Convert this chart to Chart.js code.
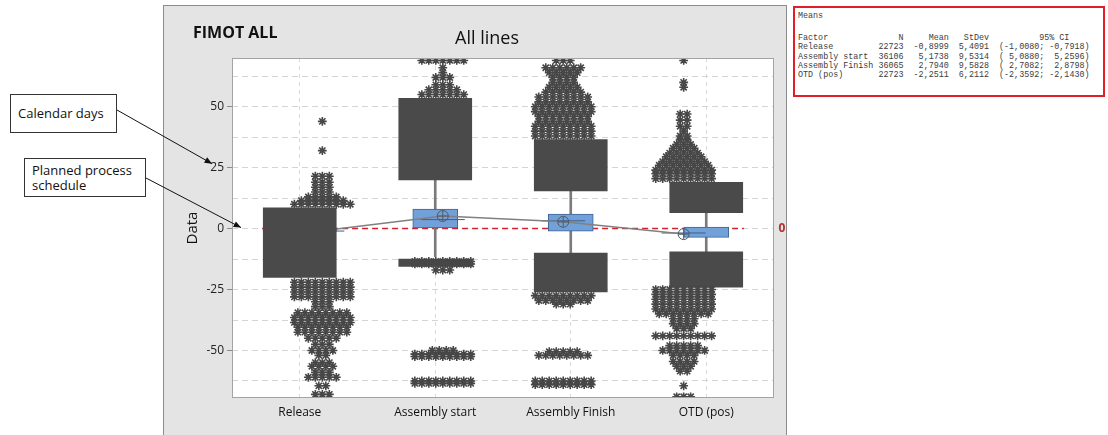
<!DOCTYPE html>
<html>
<head>
<meta charset="utf-8">
<script src="https://cdn.jsdelivr.net/npm/chart.js@4.4.1/dist/chart.umd.min.js"></script>
<style>
  html, body { margin: 0; padding: 0; background: #fff; }
  #wrap { position: relative; width: 1108px; height: 435px; overflow: hidden; font-family: "Open Sans", sans-serif; color: #111; }
  #chart { position: absolute; left: 0; top: 0; }
  .note { position: absolute; box-sizing: border-box; border: 1px solid #333; background: #fff; font-size: 13px; line-height: 15px; padding: 0 0 0 7px; display: flex; align-items: center; }
  #fimot { position: absolute; left: 193px; top: 21px; font-size: 16px; font-weight: 700; line-height: 22px; }
  #title { position: absolute; left: 487px; top: 26px; transform: translateX(-50%); font-size: 18px; line-height: 22px; }
  #means { position: absolute; left: 793px; top: 6px; width: 312px; height: 91px; box-sizing: border-box; border: 2px solid #e01f2b; background: #fff; }
  #means pre { position: absolute; left: 3px; margin: 0; font-family: "Liberation Mono", monospace; font-size: 8.4px; line-height: 9.3px; color: #3c3c3c; }
</style>
</head>
<body>
<div id="wrap">
  <canvas id="chart" width="1108" height="435"></canvas>
  <div id="fimot">FIMOT ALL</div>
  <div id="title">All lines</div>
  <div class="note" style="left:10px;top:94px;width:107px;height:39px;">Calendar days</div>
  <div class="note" style="left:24px;top:158px;width:122px;height:39px;">Planned process<br>schedule</div>
  <div id="means"><pre id="meansHead" style="top:4px;"></pre><pre id="meansBody" style="top:26px;"></pre></div>
</div>
<script>
// ---- data ----
const categories = ["Release", "Assembly start", "Assembly Finish", "OTD (pos)"];
const q1 = [-5, 0.3, -1, -3.6];
const q3 = [3.5, 8, 6, 0.6];
const medians = [-1, 3.7, 3.2, -1.8];
const means = [-0.8999, 5.1738, 2.7940, -2.2511];
const whiskerLow = [-20, -11.5, -10, -9.5];
const whiskerHigh = [8, 20, 15.5, 6.5];
// solid areas where outlier symbols overlap completely
const denseHigh = [[-1, 8.5], [20, 53.5], [15.5, 36.5], [6.5, 19]];
const denseLow = [[-20, 0], [-12.5, -15.5], [-10, -26], [-9.5, -24]];
// outlier rows: [value, symbols side by side]
const releaseRows = [
  [10, 9], [11.5, 7], [13, 5], [15, 3], [17, 3], [19, 3], [21.5, 3], [32, 1], [44, 1],
  [-22, 9], [-24, 9], [-26, 9], [-28, 9], [-30, 3], [-32, 3], [-34.5, 8], [-36.5, 9],
  [-38.5, 9], [-40.5, 8], [-42.5, 8], [-45, 5], [-47.5, 3], [-50, 4], [-52, 2],
  [-55, 3], [-56.5, 4], [-59, 3], [-61, 5], [-64.5, 2], [-68, 3]
];
const startRows = [
  [55, 7], [57, 5], [59, 3], [62, 3], [64, 1], [66, 1], [69, 7],
  [-13.5, 9], [-14.5, 9], [-17, 3],
  [-50, 4], [-51.5, 9], [-52.5, 9], [-62.5, 9], [-63.5, 9]
];
const finishRows = [
  [38, 9], [40, 9], [42, 9], [44, 8], [46, 8], [48, 9], [50, 9], [52, 8], [54, 8],
  [56, 6], [58, 5], [60, 4], [62, 4], [64, 5], [66, 6], [69, 3],
  [-27.5, 9], [-29.5, 8], [-31, 3],
  [-50.5, 5], [-52, 8], [-62.5, 9], [-64, 9]
];
const otdRows = [
  [20.5, 9], [22.5, 9], [24, 9], [26, 8], [27.5, 7], [29.5, 6], [31, 5], [33, 4],
  [34.5, 3], [36.5, 2], [38, 2], [40, 1], [42, 2], [44.5, 2], [47, 2], [58, 1], [60, 1], [69, 1],
  [-25, 9], [-27, 9], [-29, 9], [-31, 9], [-33, 9], [-35, 8], [-37, 4], [-39, 4], [-41, 3],
  [-44, 9], [-48, 5], [-50, 7], [-52, 4], [-54.5, 4], [-56.5, 3], [-58.5, 2], [-64.5, 1], [-69, 3]
];
const yLabels = [-50, -25, 0, 25, 50];
const yGrid = [-62.5, -50, -37.5, -25, -12.5, 0, 12.5, 25, 37.5, 50, 62.5];
const refValue = 0;

// means table
const tableFactors = ["Release", "Assembly start", "Assembly Finish", "OTD (pos)"];
const tableN = ["22723", "36106", "36065", "22723"];
const tableMean = ["-0,8999", "5,1738", "2,7940", "-2,2511"];
const tableStDev = ["5,4091", "9,5314", "9,5828", "6,2112"];
const tableCI = ["(-1,0080; -0,7918)", "( 5,0880;  5,2596)", "( 2,7082;  2,8798)", "(-2,3592; -2,1430)"];

document.getElementById("meansHead").textContent = "Means";
document.getElementById("meansBody").textContent =
  "Factor".padEnd(20) + "N" + "Mean".padStart(9) + "StDev".padStart(8) + "95% CI".padStart(16) + "\n" +
  tableFactors.map((f, i) =>
    f.padEnd(16) + tableN[i] + tableMean[i].padStart(9) + tableStDev[i].padStart(8) + "  " + tableCI[i]
  ).join("\n");

/* ================= CHART ================= */

const STAR_GAP = 0.058; // horizontal spacing of stacked symbols, in category units

function rowPoints(rows, i) {
  const pts = [];
  rows.forEach(([v, n]) => {
    for (let k = 0; k < n; k++) pts.push({ x: i + (k - (n - 1) / 2) * STAR_GAP, y: v });
  });
  return pts;
}

const starPoints = [releaseRows, startRows, finishRows, otdRows]
  .flatMap((rows, i) => rowPoints(rows, i));

const atIndex = arr => arr.map((v, i) => ({ x: i, y: v }));

const backdrop = {
  id: "backdrop",
  beforeDraw(chart) {
    const { ctx, chartArea: a } = chart;
    ctx.save();
    ctx.fillStyle = "#e4e4e4";
    ctx.fillRect(163, 5, 624, 430);
    ctx.strokeStyle = "#8c8c8c";
    ctx.lineWidth = 1;
    ctx.strokeRect(163.5, 5.5, 623, 440);
    ctx.fillStyle = "#fff";
    ctx.fillRect(a.left, a.top, a.right - a.left, a.bottom - a.top);
    ctx.restore();
  },
  afterDraw(chart) {
    const { ctx, chartArea: a, scales } = chart;
    const y0 = scales.y.getPixelForValue(refValue);
    ctx.save();
    ctx.strokeStyle = "#a3a3a3";
    ctx.lineWidth = 1;
    ctx.strokeRect(a.left + 0.5, a.top + 0.5, a.right - a.left - 1, a.bottom - a.top - 1);
    ctx.fillStyle = "#b3302c";
    ctx.font = "bold 12px 'Open Sans'";
    ctx.textAlign = "center";
    ctx.textBaseline = "middle";
    ctx.fillText(String(refValue), a.right + 8, y0);
    // callout arrows
    arrow(ctx, 117, 110, 212, scales.y.getPixelForValue(25) - 4);
    arrow(ctx, 146, 178, a.left + 9, y0 - 1);
    ctx.restore();
  }
};

function arrow(ctx, x1, y1, x2, y2) {
  const ang = Math.atan2(y2 - y1, x2 - x1);
  ctx.strokeStyle = "#111";
  ctx.fillStyle = "#111";
  ctx.lineWidth = 1;
  ctx.beginPath();
  ctx.moveTo(x1, y1);
  ctx.lineTo(x2, y2);
  ctx.stroke();
  ctx.beginPath();
  ctx.moveTo(x2, y2);
  ctx.lineTo(x2 - 8 * Math.cos(ang - 0.4), y2 - 8 * Math.sin(ang - 0.4));
  ctx.lineTo(x2 - 8 * Math.cos(ang + 0.4), y2 - 8 * Math.sin(ang + 0.4));
  ctx.closePath();
  ctx.fill();
}

new Chart(document.getElementById("chart"), {
  type: "bar",
  data: {
    labels: categories,
    datasets: [
      {
        type: "scatter", xAxisID: "x2", order: 1,
        data: starPoints,
        pointStyle: "star", radius: 4.4, borderWidth: 1.6,
        borderColor: "#474747", backgroundColor: "transparent"
      },
      {
        order: 2, data: denseHigh, grouped: false, barThickness: 73,
        backgroundColor: "#4a4a4a", borderWidth: 0
      },
      {
        order: 2, data: denseLow, grouped: false, barThickness: 73,
        backgroundColor: "#4a4a4a", borderWidth: 0
      },
      {
        type: "scatter", xAxisID: "x2", order: 3,
        data: atIndex(means),
        pointStyle: "cross", radius: 5, borderWidth: 1, borderColor: "#505a66"
      },
      {
        type: "scatter", xAxisID: "x2", order: 3,
        data: atIndex(means),
        pointStyle: "circle", radius: 5.5, borderWidth: 1,
        borderColor: "#505a66", backgroundColor: "transparent"
      },
      {
        type: "line", xAxisID: "x2", order: 4,
        data: atIndex(means),
        borderColor: "#808080", borderWidth: 1.5, pointRadius: 0, tension: 0
      },
      {
        type: "scatter", xAxisID: "x2", order: 5,
        data: atIndex(medians),
        pointStyle: "line", radius: 22, borderWidth: 1, borderColor: "#3e5f88"
      },
      {
        order: 6, data: q1.map((v, i) => [v, q3[i]]), grouped: false, barThickness: 45,
        backgroundColor: "#72a0d8", borderColor: "#3f6596", borderWidth: 1, borderSkipped: false
      },
      {
        order: 7, data: whiskerLow.map((v, i) => [v, whiskerHigh[i]]), grouped: false, barThickness: 2,
        backgroundColor: "#7a7a7a", borderWidth: 0
      },
      {
        type: "line", xAxisID: "x2", order: 9,
        data: [{ x: -0.5, y: refValue }, { x: 3.5, y: refValue }],
        borderColor: "#d3212d", borderWidth: 1.5, borderDash: [6, 4], pointRadius: 0
      }
    ]
  },
  options: {
    responsive: false,
    animation: false,
    events: [],
    layout: { padding: { left: 180, right: 334, top: 58, bottom: 7 } },
    plugins: { legend: { display: false }, tooltip: { enabled: false } },
    scales: {
      x: {
        offset: true,
        grid: { offset: false, color: "#d9d9d9", drawTicks: false },
        border: { display: false, dash: [4, 4] },
        ticks: { color: "#111", font: { size: 12, family: "'Open Sans'" }, padding: 7 },
        afterFit: s => { s.height = 30; }
      },
      x2: { type: "linear", display: false, min: -0.5, max: 3.5 },
      y: {
        min: -69.5, max: 70,
        afterBuildTicks: s => { s.ticks = yGrid.map(v => ({ value: v })); },
        ticks: {
          callback: v => (yLabels.includes(v) ? String(v) : ""),
          color: "#222", font: { size: 12, family: "'Open Sans'" }, padding: 3
        },
        grid: {
          color: "#d4d4d4", tickLength: 5,
          tickColor: c => (c.tick && yLabels.includes(c.tick.value) ? "#8a8a8a" : "transparent")
        },
        border: { display: false, dash: [6, 4] },
        title: {
          display: true, text: "Data", color: "#111",
          font: { size: 15, family: "'Open Sans'" }, padding: { top: 4, bottom: 0 }
        },
        afterFit: s => { s.width = 52; }
      }
    }
  },
  plugins: [backdrop]
});
</script>
</body>
</html>
